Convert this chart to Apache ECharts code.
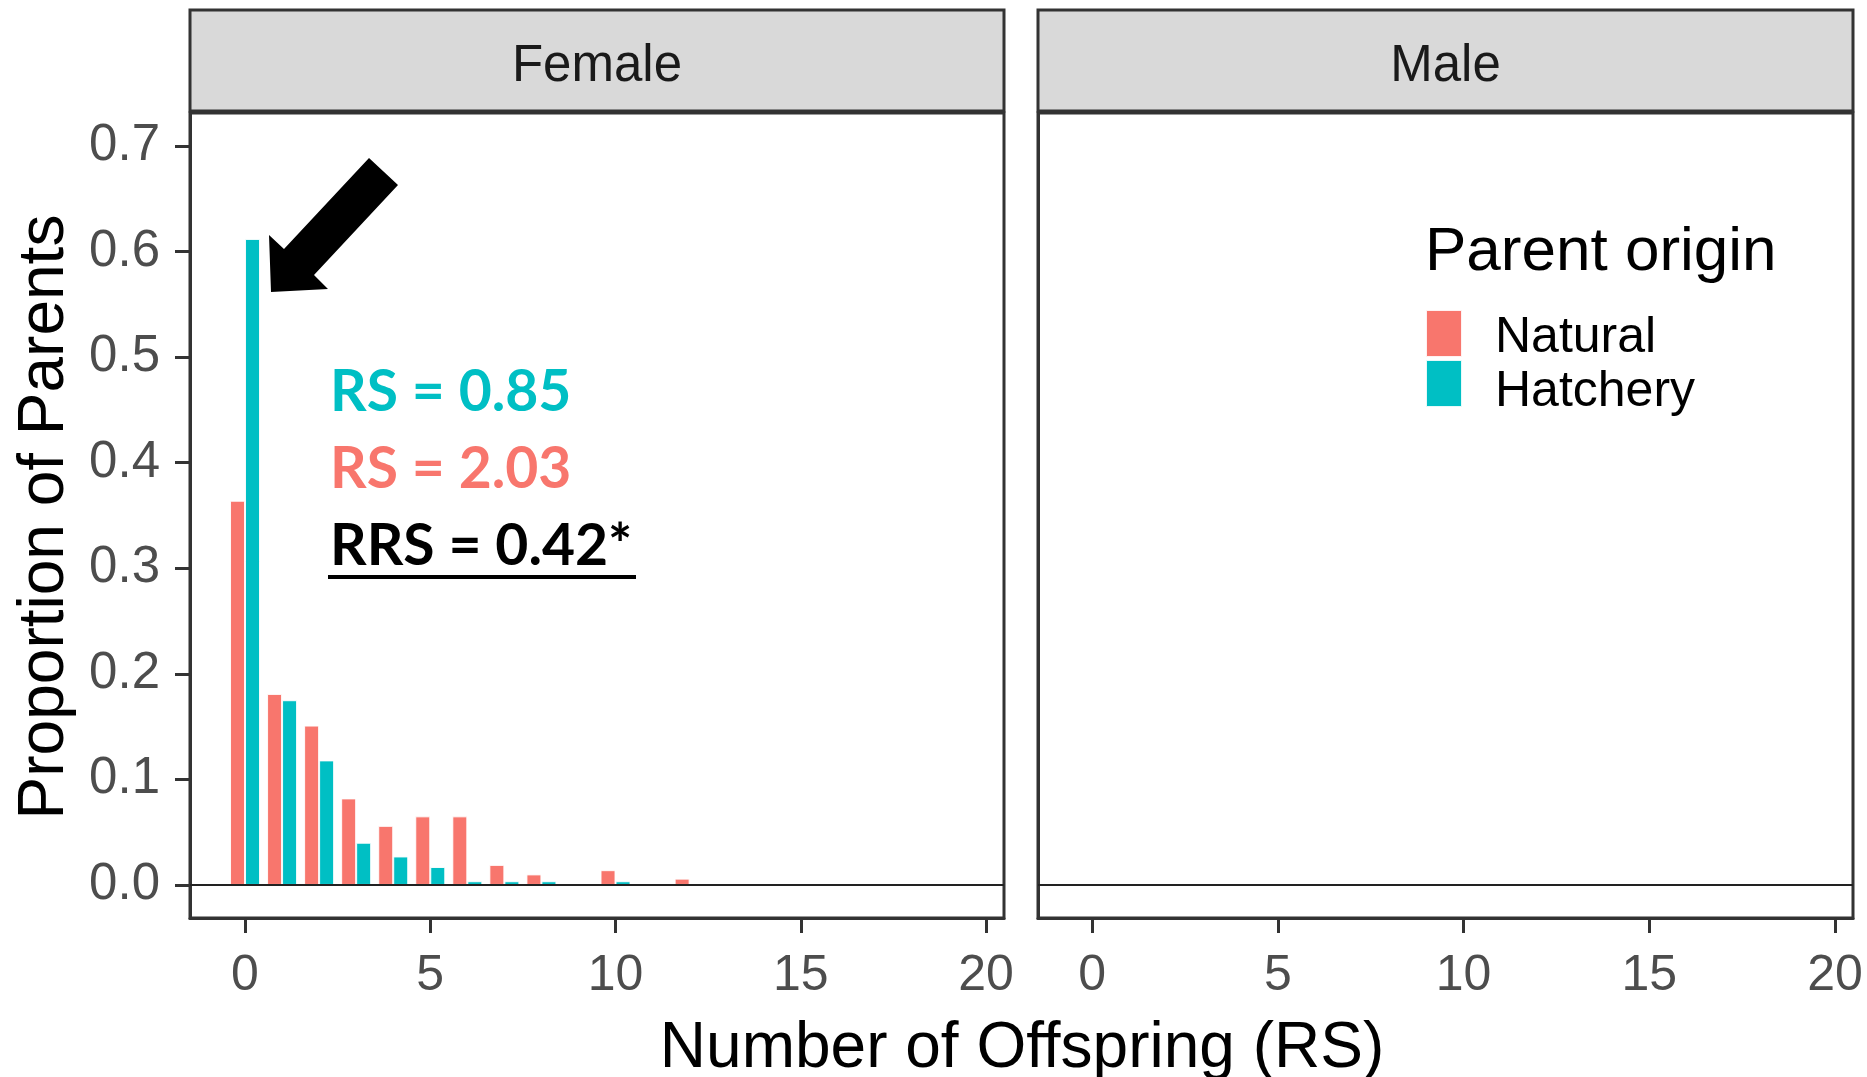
<!DOCTYPE html>
<html>
<head>
<meta charset="utf-8">
<script src="https://cdn.jsdelivr.net/npm/echarts@6/dist/echarts.min.js"></script>
<style>
html,body{margin:0;padding:0;background:#fff;}
#chart{width:1867px;height:1077px;}
</style>
</head>
<body>
<div id="chart"></div>
<script>
// ---- data ----
const naturalX  = [0, 1, 2, 3, 4, 5, 6, 7, 8, 10, 12];
const naturalY  = [0.364, 0.181, 0.151, 0.082, 0.056, 0.065, 0.065, 0.019, 0.010, 0.014, 0.006];
const hatcheryX = [0, 1, 2, 3, 4, 5, 6, 7, 8, 10];
const hatcheryY = [0.612, 0.175, 0.118, 0.040, 0.027, 0.017, 0.0035, 0.0035, 0.0035, 0.0035];
const yTicks = [0, 0.1, 0.2, 0.3, 0.4, 0.5, 0.6, 0.7];
const xTicks = [0, 5, 10, 15, 20];
const panels = ['Female', 'Male'];
const seriesNames = ['Natural', 'Hatchery'];
const colors = ['#F8766D', '#00BFC4'];
const annotations = ['RS = 0.85', 'RS = 2.03', 'RRS = 0.42*'];
const legendTitle = 'Parent origin';
const xTitle = 'Number of Offspring (RS)';
const yTitle = 'Proportion of Parents';

const zip = (xs, ys) => xs.map((x, i) => [x, ys[i]]);

const font = '"Liberation Sans", Arial, sans-serif';
const chart = echarts.init(document.getElementById('chart'));

const grids = [
  {left: 190, top: 113, width: 814, height: 805},
  {left: 1038, top: 113, width: 815, height: 805}
];

function xAxisFor(i, min) {
  return {
    type: 'value', gridIndex: i, min: min, max: 20.485,
    axisLine: {show: true, onZero: false, lineStyle: {color: '#333', width: 3}},
    axisTick: {show: true, customValues: xTicks, length: 15, lineStyle: {color: '#333', width: 3}},
    axisLabel: {show: true, customValues: xTicks, margin: 33, fontSize: 50, color: '#4D4D4D', fontFamily: font},
    splitLine: {show: false}
  };
}
function yAxisFor(i, show) {
  return {
    type: 'value', gridIndex: i, min: -0.0313, max: 0.7313,
    axisLine: {show: true, onZero: false, lineStyle: {color: '#333', width: 3}},
    axisTick: {show: show, customValues: yTicks, length: 15, lineStyle: {color: '#333', width: 3}},
    axisLabel: {show: show, customValues: yTicks, margin: 30, fontSize: 51, color: '#4D4D4D', fontFamily: font,
      formatter: v => v.toFixed(1)},
    splitLine: {show: false}
  };
}

const zeroLine = {
  silent: true, symbol: 'none', label: {show: false},
  lineStyle: {color: '#222', width: 2, type: 'solid'},
  data: [{yAxis: 0}]
};

const graphic = [];
grids.forEach((g, i) => {
  graphic.push({
    type: 'rect', shape: {x: g.left, y: 10, width: g.width, height: 101},
    style: {fill: '#D9D9D9', stroke: '#333', lineWidth: 3}, z: 1
  });
  graphic.push({
    type: 'text', x: g.left + g.width / 2, y: 67,
    style: {text: panels[i], fill: '#1A1A1A', font: '51px ' + font, textAlign: 'center', textVerticalAlign: 'middle', align: 'center', verticalAlign: 'middle'}, z: 2
  });
});
// axis titles
graphic.push({
  type: 'text', x: 1022, y: 1049,
  style: {text: xTitle, fill: '#000', font: '64px ' + font, textAlign: 'center', textVerticalAlign: 'middle', align: 'center', verticalAlign: 'middle'}
});
graphic.push({
  type: 'text', x: 45, y: 517, rotation: Math.PI / 2,
  style: {text: yTitle, fill: '#000', font: '64px ' + font, textAlign: 'center', textVerticalAlign: 'middle', align: 'center', verticalAlign: 'middle'}
});
// legend title
graphic.push({
  type: 'text', x: 1425, y: 253,
  style: {text: legendTitle, fill: '#000', font: '62px ' + font, textAlign: 'left', textVerticalAlign: 'middle', align: 'left', verticalAlign: 'middle'}
});
// annotations
const annFont = 'bold 57px Lato, "Open Sans", sans-serif';
const annColors = [colors[1], colors[0], '#000'];
const annY = [393, 470, 547];
annotations.forEach((t, i) => {
  graphic.push({
    type: 'text', x: 330, y: annY[i],
    style: {text: t, fill: annColors[i], font: annFont, textAlign: 'left', textVerticalAlign: 'middle', align: 'left', verticalAlign: 'middle'}, z: 5
  });
});
graphic.push({
  type: 'line', shape: {x1: 328, y1: 577, x2: 636, y2: 577},
  style: {stroke: '#000', lineWidth: 4}, z: 5
});
// arrow
graphic.push({
  type: 'polygon', z: 5,
  shape: {points: [[369, 158], [398, 185], [314, 275], [328, 289], [271, 292], [269, 235], [284, 249]]},
  style: {fill: '#000'}
});

const option = {
  animation: false,
  backgroundColor: '#fff',
  grid: grids.map(g => Object.assign({show: true, borderColor: '#333', borderWidth: 3, backgroundColor: '#fff', containLabel: false}, g)),
  xAxis: [xAxisFor(0, -1.485), xAxisFor(1, -1.455)],
  yAxis: [yAxisFor(0, true), yAxisFor(1, false)],
  legend: [
    { // keys
      orient: 'vertical', left: 1425, top: 309, padding: 0,
      itemWidth: 36, itemHeight: 47, itemGap: 1,
      selectedMode: false, icon: 'rect',
      data: seriesNames,
      formatter: () => '',
      textStyle: {fontSize: 10, lineHeight: 10}
    },
    { // labels
      orient: 'vertical', left: 1490, top: 313, padding: 0,
      itemWidth: 0, itemHeight: 47, itemGap: 4,
      selectedMode: false, icon: 'none',
      data: seriesNames,
      textStyle: {fontSize: 50, color: '#000', fontFamily: font, lineHeight: 47}
    }
  ],
  series: [
    {
      name: seriesNames[0], type: 'bar', xAxisIndex: 0, yAxisIndex: 0,
      data: zip(naturalX, naturalY), barWidth: 15, barGap: '0%',
      itemStyle: {color: colors[0], borderColor: 'rgba(255,255,255,0.9)', borderWidth: 1},
      markLine: zeroLine
    },
    {
      name: seriesNames[1], type: 'bar', xAxisIndex: 0, yAxisIndex: 0,
      data: zip(hatcheryX, hatcheryY), barWidth: 15, barGap: '0%',
      itemStyle: {color: colors[1], borderColor: 'rgba(255,255,255,0.9)', borderWidth: 1}
    },
    {
      name: 'maleEmpty', type: 'line', xAxisIndex: 1, yAxisIndex: 1,
      data: [], markLine: zeroLine
    }
  ],
  graphic: graphic
};
chart.setOption(option);
</script>
</body>
</html>
